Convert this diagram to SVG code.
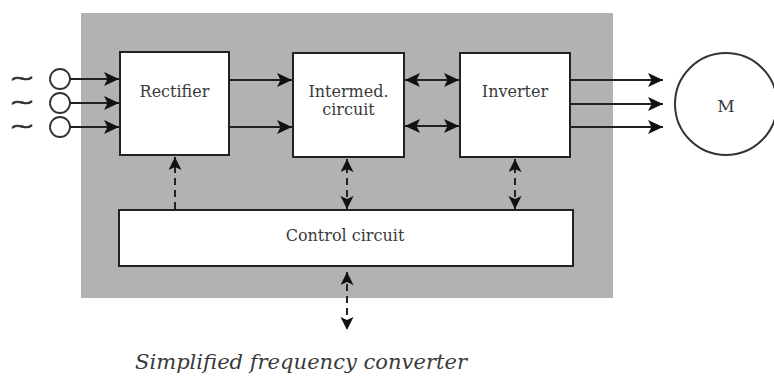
<svg xmlns="http://www.w3.org/2000/svg" width="774" height="376" viewBox="0 0 774 376">
  <style>
    .box { fill: #ffffff; stroke: #222222; stroke-width: 2; }
    .lbl { font-family: "DejaVu Serif", "Liberation Serif", serif; font-size: 16px; fill: #3a3a3a; text-anchor: middle; }
    .wire { stroke: #222222; stroke-width: 2; fill: none; }
    .dash { stroke: #222222; stroke-width: 2; fill: none; stroke-dasharray: 7 5; }
    .src { fill: none; stroke: #333333; stroke-width: 1.8; }
    .tilde { font-family: "DejaVu Sans", sans-serif; font-size: 19px; fill: #333333; stroke: #333333; stroke-width: 0.7; text-anchor: middle; }
  </style>
  <defs>
    <marker id="ah" markerUnits="userSpaceOnUse" markerWidth="16" markerHeight="14" viewBox="0 0 16 14" refX="15" refY="7" orient="auto-start-reverse">
      <path d="M0,0 L15,7 L0,14 L3.5,7 z" fill="#111111"/>
    </marker>
    <marker id="ahs" markerUnits="userSpaceOnUse" markerWidth="14" markerHeight="14" viewBox="0 0 14 14" refX="13" refY="6.5" orient="auto-start-reverse">
      <path d="M0,0 L13,6.5 L0,13 L3,6.5 z" fill="#111111"/>
    </marker>
  </defs>

  <rect x="81" y="13" width="532" height="285" fill="#b2b2b2"/>

  <g id="source">
    <text class="tilde" transform="translate(22,85) scale(1.6,1)">~</text>
    <text class="tilde" transform="translate(22,109) scale(1.6,1)">~</text>
    <text class="tilde" transform="translate(22,133) scale(1.6,1)">~</text>
    <circle class="src" cx="60" cy="79" r="10"/>
    <circle class="src" cx="60" cy="103" r="10"/>
    <circle class="src" cx="60" cy="127" r="10"/>
  </g>

  <g id="rectifier">
    <rect class="box" x="120" y="52" width="109" height="103"/>
    <text class="lbl" x="174.5" y="97">Rectifier</text>
  </g>

  <g id="intermed">
    <rect class="box" x="293" y="53" width="111" height="104"/>
    <text class="lbl" x="348.5" y="97">Intermed.</text>
    <text class="lbl" x="348.5" y="115">circuit</text>
  </g>

  <g id="inverter">
    <rect class="box" x="460" y="53" width="110" height="104"/>
    <text class="lbl" x="515" y="97">Inverter</text>
  </g>

  <g id="control">
    <rect class="box" x="119" y="210" width="454" height="56"/>
    <text class="lbl" x="345" y="241">Control circuit</text>
  </g>

  <g id="motor">
    <circle cx="726" cy="104" r="51" fill="#ffffff" stroke="#333333" stroke-width="2"/>
    <text class="lbl" x="726" y="112" style="font-size:17px">M</text>
  </g>

  <g id="connectors">
    <line class="wire" x1="70" y1="79" x2="119" y2="79" marker-end="url(#ah)"/>
    <line class="wire" x1="70" y1="103" x2="119" y2="103" marker-end="url(#ah)"/>
    <line class="wire" x1="70" y1="127" x2="119" y2="127" marker-end="url(#ah)"/>

    <line class="wire" x1="229" y1="80" x2="292" y2="80" marker-end="url(#ah)"/>
    <line class="wire" x1="229" y1="127" x2="292" y2="127" marker-end="url(#ah)"/>

    <line class="wire" x1="405" y1="80" x2="459" y2="80" marker-start="url(#ah)" marker-end="url(#ah)"/>
    <line class="wire" x1="405" y1="126" x2="459" y2="126" marker-start="url(#ah)" marker-end="url(#ah)"/>

    <line class="wire" x1="570" y1="80" x2="663" y2="80" marker-end="url(#ah)"/>
    <line class="wire" x1="570" y1="104" x2="663" y2="104" marker-end="url(#ah)"/>
    <line class="wire" x1="570" y1="127" x2="663" y2="127" marker-end="url(#ah)"/>

    <line class="dash" x1="175" y1="209" x2="175" y2="157" marker-end="url(#ahs)"/>
    <line class="dash" x1="347" y1="209" x2="347" y2="159" marker-start="url(#ahs)" marker-end="url(#ahs)"/>
    <line class="dash" x1="515" y1="209" x2="515" y2="159" marker-start="url(#ahs)" marker-end="url(#ahs)"/>
    <line class="dash" x1="347" y1="272" x2="347" y2="330" marker-start="url(#ahs)" marker-end="url(#ahs)"/>
  </g>

  <text x="135" y="369" textLength="332" lengthAdjust="spacingAndGlyphs" style="font-family:'DejaVu Serif','Liberation Serif',serif;font-style:italic;font-size:21px;fill:#3a3a3a">Simplified frequency converter</text>
</svg>
